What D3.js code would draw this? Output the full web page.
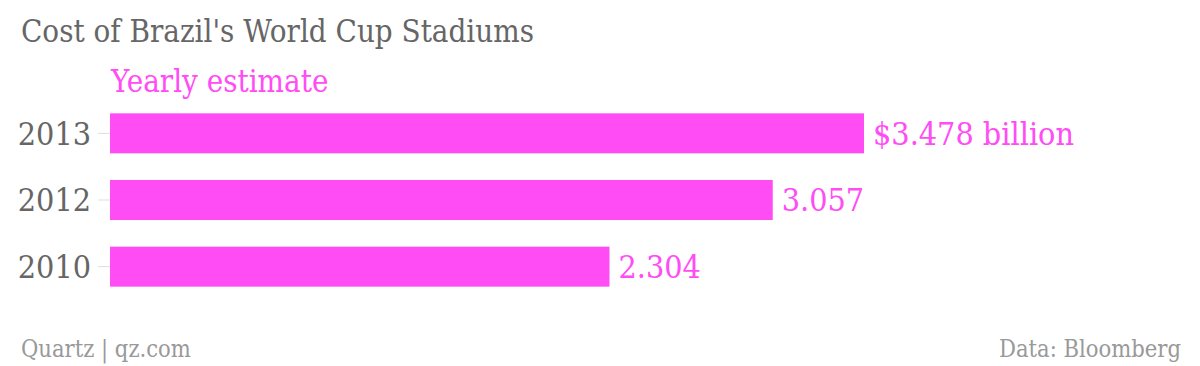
<!DOCTYPE html>
<html>
<head>
<meta charset="utf-8">
<script src="https://cdnjs.cloudflare.com/ajax/libs/d3/7.8.5/d3.min.js"></script>
<style>
	body { margin: 0; background: #fff; }
	svg text { font-family: "DejaVu Serif Condensed", "Liberation Serif", serif; }
</style>
</head>
<body>
<svg id="chart"></svg>
<script>
// data
years = ["2013", "2012", "2010"];
costs = [3.478, 3.057, 2.304];
cost_labels = ["$3.478 billion", "3.057", "2.304"];

title_text = "Cost of Brazil's World Cup Stadiums";
series_name = "Yearly estimate";
credit_text = "Quartz | qz.com";
source_text = "Data: Bloomberg";

pink = "#ff4cf4";

settings = {
	width : 1200,
	height : 366,
	left : 110,
	top : 100,
	plotHeight : 200
}

svg = d3.select("#chart")
	.attr("width", settings.width)
	.attr("height", settings.height)

var x = d3.scaleLinear().domain([0, 3.478]).range([0, 754]);
var y = d3.scaleBand().domain(years).range([0, settings.plotHeight]).paddingInner(0.4).paddingOuter(0.2);

g = svg.append("g")
	.attr("transform", "translate(" + settings.left + "," + settings.top + ")")

// Year axis
yAxis = g.append("g")
	.call(d3.axisLeft(y).tickSize(12).tickPadding(7))
yAxis.select(".domain").remove()
yAxis.selectAll("line").attr("stroke", "#ddd")
yAxis.selectAll("text")
	.attr("fill", "#666")
	.style("font-size", "32px")
	.attr("dy", "0.35em")

// bars
g.selectAll("rect").data(years).enter()
	.append("rect")
	.attr("x", 0)
	.attr("y", d => y(d))
	.attr("width", (d, i) => x(costs[i]))
	.attr("height", y.bandwidth())
	.attr("fill", pink)

// value labels
g.selectAll(".val").data(years).enter()
	.append("text")
	.attr("class", "val")
	.attr("x", (d, i) => x(costs[i]) + 9)
	.attr("y", d => y(d) + y.bandwidth() / 2)
	.attr("dy", "0.35em")
	.attr("fill", pink)
	.style("font-size", "32px")
	.text((d, i) => cost_labels[i])

// titles
svg.append("text")
	.attr("x", 21).attr("y", 42)
	.attr("fill", "#666")
	.style("font-size", "31px")
	.text(title_text)

svg.append("text")
	.attr("x", 111).attr("y", 92)
	.attr("fill", pink)
	.style("font-size", "31px")
	.text(series_name)

svg.append("text")
	.attr("x", 21).attr("y", 357)
	.attr("fill", "#999")
	.style("font-size", "23.5px")
	.text(credit_text)

svg.append("text")
	.attr("x", 1181).attr("y", 357)
	.attr("text-anchor", "end")
	.attr("fill", "#999")
	.style("font-size", "23.5px")
	.text(source_text)
</script>
</body>
</html>
